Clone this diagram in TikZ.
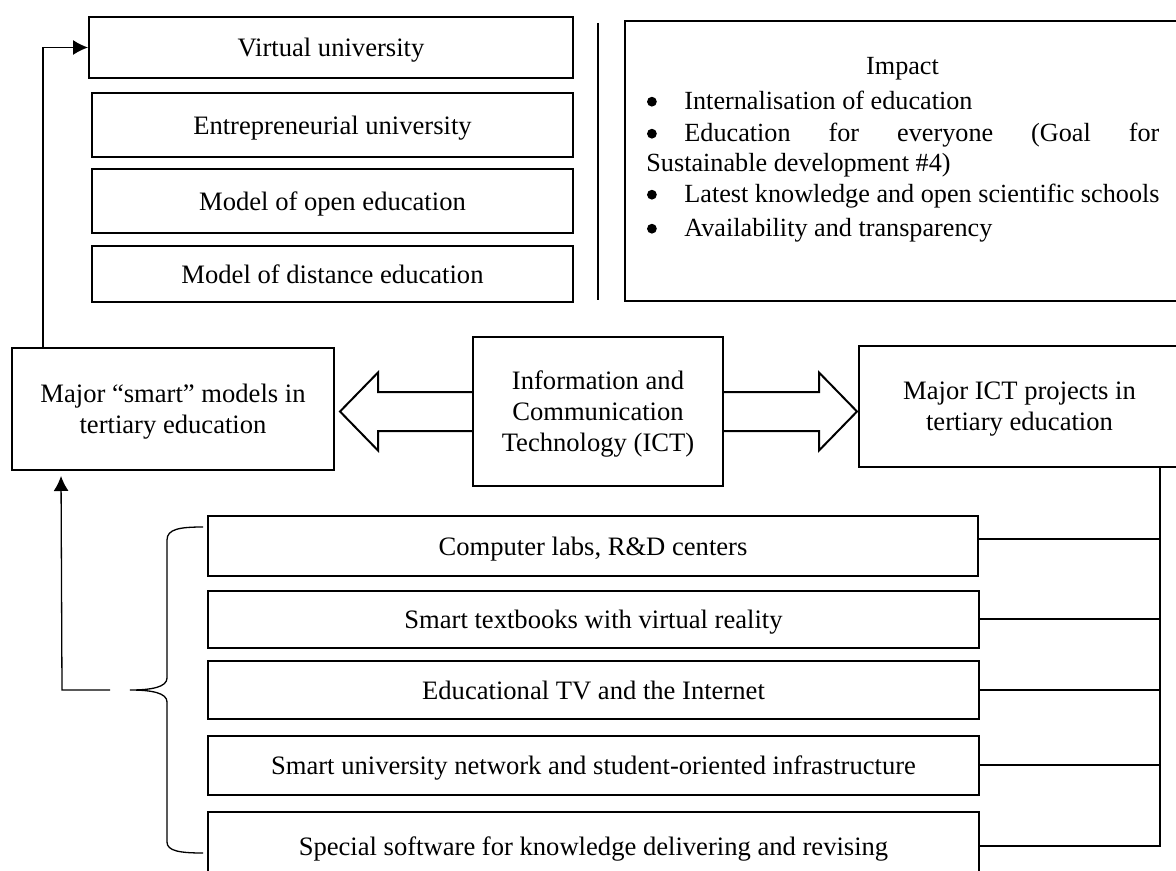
\documentclass[tikz,border=0pt]{standalone}
\usepackage{fontspec}
\setmainfont{Liberation Serif}
\usetikzlibrary{arrows.meta,calc}
\newcommand\impbul{\makebox[19pt][l]{\hspace*{0.3pt}\tikz[baseline=-3.9pt]\fill (0,0) circle (2.45pt);}}
\begin{document}
\begin{tikzpicture}[x=0.5pt,y=-0.5pt,
  box/.style={draw,line width=1pt,fill=white,inner sep=0pt,align=center,text depth=0pt,font=\fontsize{13.3}{15.5}\selectfont},
  conn/.style={line width=0.65pt},
  blk/.style={line width=1pt,line join=miter},
  txt/.style={inner sep=0pt,font=\fontsize{13.1}{15.5}\selectfont},
  arr/.style={-{Latex[length=7.5pt,width=7.5pt]}}
]
\useasboundingbox (0,0) rectangle (1176,871);
\clip (0,0) rectangle (1176,871);

% top-left model boxes
\node[box,minimum width=242pt,minimum height=30.5pt] (vu) at (331,47.5) {Virtual university};
\node[box,minimum width=240.5pt,minimum height=32pt] (eu) at (332.5,125) {Entrepreneurial university};
\node[box,minimum width=240.5pt,minimum height=32pt] (oe) at (332.5,201) {Model of open education};
\node[box,minimum width=240.5pt,minimum height=28pt] (de) at (332.5,274) {Model of distance education};

% separator line
\coordinate (sepA) at (598,23);
\coordinate (sepB) at (598,300);
\draw[line width=1pt] (sepA) -- (sepB);

% impact box
\node[box,minimum width=277.5pt,minimum height=140pt] (imp) at (902.5,161) {};
\node[txt,anchor=base] (imp0) at (902.5,75) {Impact};
\node[txt,anchor=base west] (imp1) at (646,109.5) {\impbul Internalisation of education};
\node[txt,anchor=base west] (imp2) at (646,141.5) {\impbul\makebox[237.5pt][s]{Education for everyone (Goal for}};
\node[txt,anchor=base west] (imp3) at (646,171.5) {Sustainable development \#4)};
\node[txt,anchor=base west] (imp4) at (646,202.5) {\impbul Latest knowledge and open scientific schools};
\node[txt,anchor=base west] (imp5) at (646,236.5) {\impbul Availability and transparency};

% middle row
\node[box,minimum width=161pt,minimum height=61pt] (ms) at (173,409) {Major “smart” models in\\tertiary education};
\node[box,minimum width=125pt,minimum height=74.5pt] (ict) at (598,411.5) {Information and\\Communication\\Technology (ICT)};
\node[box,minimum width=160.5pt,minimum height=60.5pt] (mi) at (1019.5,406.5) {Major ICT projects in\\tertiary education};

% block arrows
\coordinate (lt) at ([xshift=2.5pt]ms.east |- ict.west);
\coordinate (rt) at ([xshift=-0.5pt]mi.west |- ict.east);
\draw[blk] ($(ict.west)+(0,-19.5)$) -- ($(lt)+(38,-19.5)$) -- ($(lt)+(38,-39)$) -- (lt)
  -- ($(lt)+(38,39)$) -- ($(lt)+(38,19.5)$) -- ($(ict.west)+(0,19.5)$);
\draw[blk] ($(ict.east)+(0,-19.5)$) -- ($(rt)+(-38,-19.5)$) -- ($(rt)+(-38,-39)$) -- (rt)
  -- ($(rt)+(-38,39)$) -- ($(rt)+(-38,19.5)$) -- ($(ict.east)+(0,19.5)$);

% bottom boxes
\node[box,minimum width=385pt,minimum height=30pt] (cl) at (593,546) {Computer labs, R\&D centers};
\node[box,minimum width=385.5pt,minimum height=28.5pt] (st) at (593.5,619) {Smart textbooks with virtual reality};
\node[box,minimum width=385.5pt,minimum height=29pt] (et) at (593.5,690) {Educational TV and the Internet};
\node[box,minimum width=385.5pt,minimum height=29.5pt] (su) at (593.5,765) {Smart university network and student-oriented infrastructure};
\node[box,minimum width=385.5pt,minimum height=34pt] (ss) at (593.5,846) {Special software for knowledge delivering and revising};

% connector from smart models up to virtual university
\draw[conn,arr] ([xshift=16pt]ms.north west) |- (vu.west);

% brace and arrow back up to smart models
\draw[conn] (203,527) .. controls (180,527) and (167,529) .. (167,540) -- (167,678)
  .. controls (167,687) and (152,690) .. (130,690)
  .. controls (152,690) and (167,693) .. (167,702) -- (167,842)
  .. controls (167,851) and (180,853) .. (203,853);
\coordinate (bt) at (110,690);
\coordinate (bj) at (62,690);
\draw[conn,arr,shorten >=2.5pt] (bt) -- (bj) -- ([xshift=25pt]ms.south west);

% bus from ICT projects to bottom boxes
\coordinate (bus) at ([xshift=-10.5pt]mi.south east);
\draw[conn] (bus) -- (bus |- ss.east);
\draw[conn] ([yshift=3.5pt]cl.east) -| (bus);
\draw[conn] (st.east) -| (bus);
\draw[conn] (et.east) -| (bus);
\draw[conn] (su.east) -| (bus);
\draw[conn] (ss.east) -| (bus);
\end{tikzpicture}
\end{document}
